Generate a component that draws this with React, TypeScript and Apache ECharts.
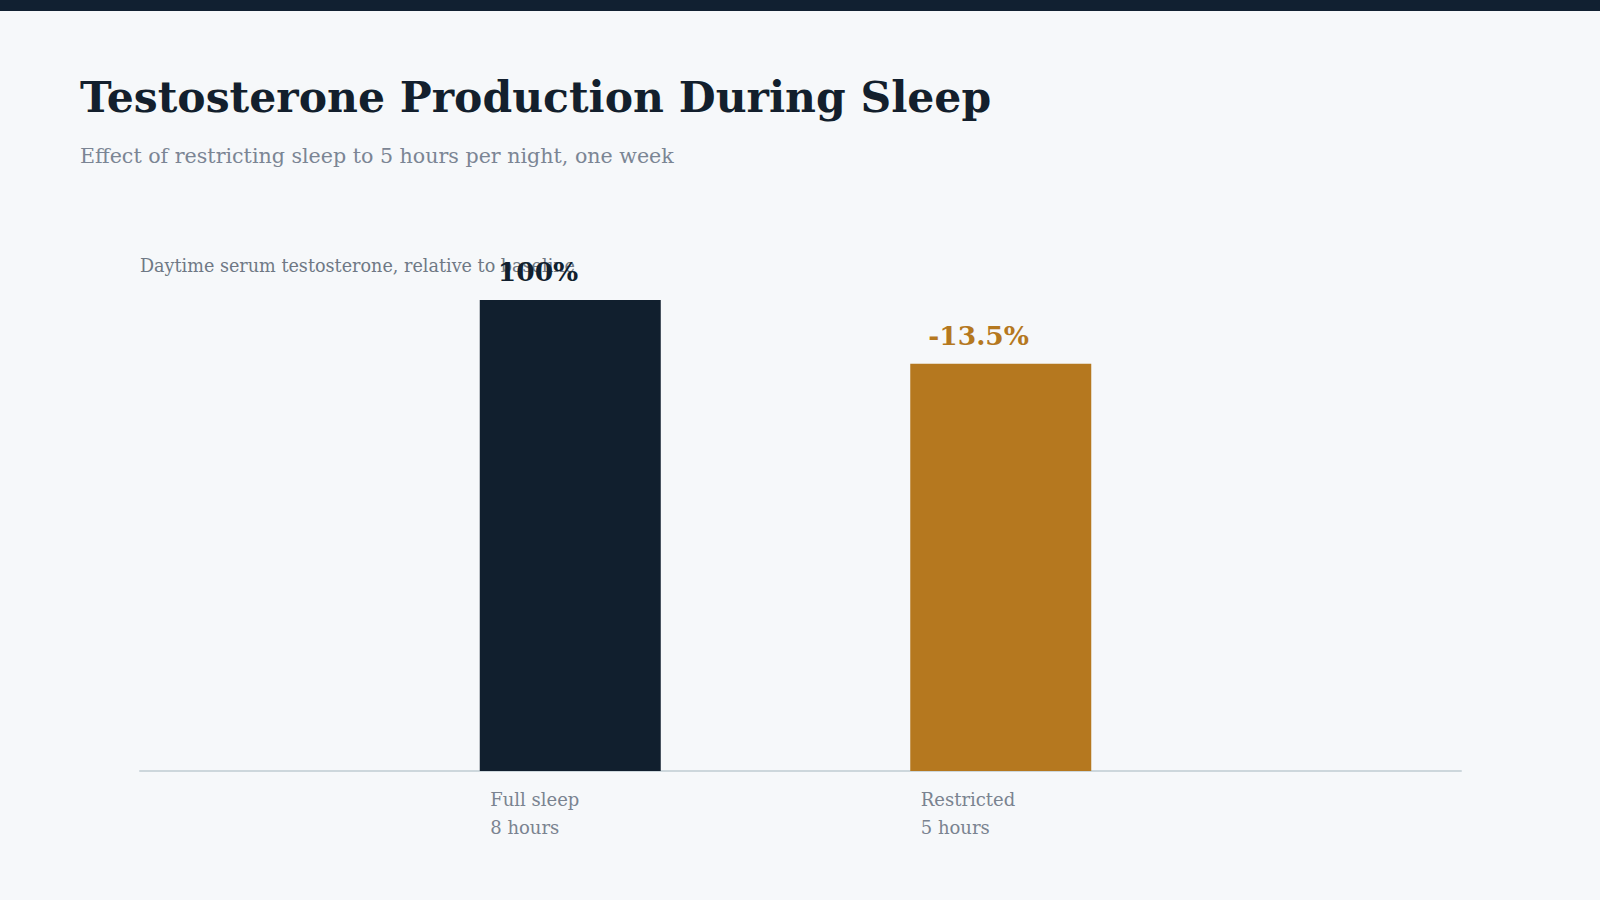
import React, { useEffect, useRef } from "react";
import * as echarts from "echarts";

const categoryNames = ["Full sleep", "Restricted"];
const categoryDetails = ["8 hours", "5 hours"];
const values = [100, 86.5];
const barColors = ["#111f2e", "#b5781f"];
const titleText = "Testosterone Production During Sleep";
const subtitleText = "Effect of restricting sleep to 5 hours per night, one week";
const axisNameText = "Daytime serum testosterone, relative to baseline";

export default function App() {
  const ref = useRef<HTMLDivElement>(null);
  useEffect(() => {
    document.body.style.margin = "0";
    const chart = echarts.init(ref.current!, null, { renderer: "svg" });
    const serif = "'DejaVu Serif', Georgia, serif";
    chart.setOption({
      animation: false,
      backgroundColor: "#f6f8fa",
      graphic: [
        {
          type: "rect",
          left: 0,
          top: 0,
          shape: { width: 1600, height: 11 },
          style: { fill: "#112031" },
        },
      ],
      title: [
        {
          text: titleText,
          left: 80,
          top: 75,
          padding: 0,
          textStyle: { fontFamily: serif, fontWeight: "bold", fontSize: 42.5, color: "#131f2d" },
        },
        {
          text: subtitleText,
          left: 80,
          top: 145,
          padding: 0,
          textStyle: { fontFamily: serif, fontWeight: "normal", fontSize: 20.6, color: "#7b8594" },
        },
      ],
      grid: [
        { left: 355, right: 384, top: 253, bottom: 129 },
        { left: 140, right: 139, top: 287, bottom: 129 },
      ],
      xAxis: [
        {
          type: "category",
          gridIndex: 0,
          data: categoryNames.map((n, i) => `${n}\n${categoryDetails[i]}`),
          axisLine: { show: false },
          axisTick: { show: false },
          axisLabel: {
            align: "left",
            padding: [0, 0, 0, -80],
            margin: 14,
            lineHeight: 28,
            fontFamily: serif,
            fontSize: 18,
            color: "#7a8390",
          },
        },
        {
          type: "category",
          gridIndex: 1,
          data: categoryNames,
          axisLine: { show: true, lineStyle: { color: "#cdd7dc", width: 2 } },
          axisTick: { show: false },
          axisLabel: { show: false },
          splitLine: { show: false },
        },
      ],
      yAxis: [
        { type: "value", gridIndex: 0, min: 0, max: 110, show: false },
        {
          type: "value",
          gridIndex: 1,
          min: 0,
          max: 110,
          axisLine: { show: false },
          axisTick: { show: false },
          axisLabel: { show: false },
          splitLine: { show: false },
          name: axisNameText,
          nameLocation: "end",
          nameGap: 12,
          nameTextStyle: {
            align: "left",
            verticalAlign: "bottom",
            fontFamily: serif,
            fontSize: 17.6,
            color: "#6f7885",
          },
        },
      ],
      series: [
        {
          type: "bar",
          xAxisIndex: 0,
          yAxisIndex: 0,
          barWidth: 181,
          data: values.map((v, i) => ({
            value: v,
            itemStyle: { color: barColors[i] },
            label: { color: barColors[i] },
          })),
          label: {
            show: true,
            position: "top",
            align: "left",
            offset: [-72.5, 0],
            distance: 15,
            fontFamily: serif,
            fontWeight: "bold",
            fontSize: 26.5,
            formatter: (p: any) =>
              p.dataIndex === 0
                ? `${p.value}%`
                : `${(p.value - values[0]).toFixed(1)}%`,
          },
        },
      ],
    });
    return () => chart.dispose();
  }, []);
  return (
    <div
      ref={ref}
      style={{ position: "fixed", left: 0, top: 0, width: 1600, height: 900 }}
    />
  );
}
